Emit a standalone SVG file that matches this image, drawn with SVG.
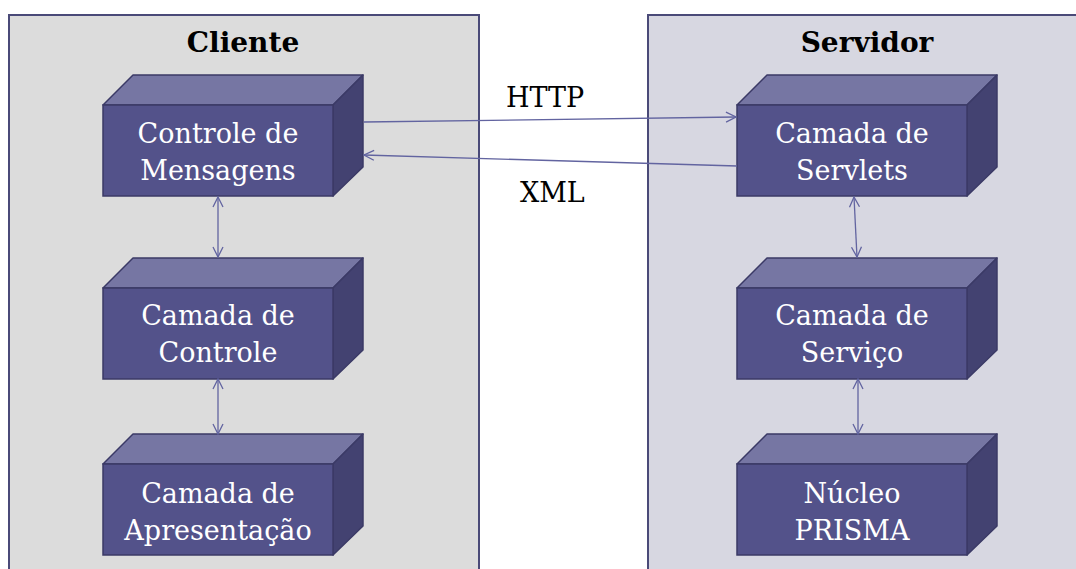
<svg xmlns="http://www.w3.org/2000/svg" width="1076" height="569" viewBox="0 0 1076 569">
  <style>
    .frame { stroke: #4a4a78; stroke-width: 2; }
    .front { fill: #53528a; stroke: #3b3a66; stroke-width: 1.5; }
    .top { fill: #7676a3; stroke: #3b3a66; stroke-width: 1.5; stroke-linejoin: round; }
    .side { fill: #434271; stroke: #3b3a66; stroke-width: 1.5; stroke-linejoin: round; }
    .label { font-family: "DejaVu Serif", "Liberation Serif", serif; font-size: 27px; fill: #ffffff; text-anchor: middle; }
    .title { font-family: "DejaVu Serif", "Liberation Serif", serif; font-size: 28px; font-weight: bold; fill: #000000; text-anchor: middle; }
    .proto { font-family: "DejaVu Serif", "Liberation Serif", serif; font-size: 27px; fill: #000000; }
    .link { stroke: #6264a0; stroke-width: 1.3; fill: none; }
  </style>
  <defs>
    <marker id="arrow" viewBox="0 0 12 12" refX="11" refY="6" markerWidth="12" markerHeight="12" markerUnits="userSpaceOnUse" orient="auto-start-reverse">
      <path d="M1,1 L11,6 L1,11" fill="none" stroke="#6264a0" stroke-width="1.3"/>
    </marker>
    <!-- 3D block: front face 230x91, depth offset 30 -->
    <g id="block">
      <polygon class="top" points="0,30 30,0 260,0 230,30"/>
      <polygon class="side" points="230,30 260,0 260,92 230,121"/>
      <rect class="front" x="0" y="30" width="230" height="91"/>
    </g>
  </defs>

  <rect width="1076" height="569" fill="#ffffff"/>

  <!-- Client container -->
  <g id="cliente">
    <rect class="frame" x="9" y="15" width="470" height="570" fill="#dcdcdc"/>
    <text class="title" x="243" y="52">Cliente</text>
  </g>

  <!-- Server container -->
  <g id="servidor">
    <rect class="frame" x="648" y="15" width="440" height="570" fill="#d7d7e1"/>
    <text class="title" x="867" y="52">Servidor</text>
  </g>

  <!-- Client nodes -->
  <g id="controle-mensagens">
    <use href="#block" x="103" y="75"/>
    <text class="label" x="218" y="143">Controle de</text>
    <text class="label" x="218" y="180">Mensagens</text>
  </g>
  <g id="camada-controle">
    <use href="#block" x="103" y="258"/>
    <text class="label" x="218" y="325">Camada de</text>
    <text class="label" x="218" y="362">Controle</text>
  </g>
  <g id="camada-apresentacao">
    <use href="#block" x="103" y="434"/>
    <text class="label" x="218" y="503">Camada de</text>
    <text class="label" x="218" y="540">Apresentação</text>
  </g>

  <!-- Server nodes -->
  <g id="camada-servlets">
    <use href="#block" x="737" y="75"/>
    <text class="label" x="852" y="143">Camada de</text>
    <text class="label" x="852" y="180">Servlets</text>
  </g>
  <g id="camada-servico">
    <use href="#block" x="737" y="258"/>
    <text class="label" x="852" y="325">Camada de</text>
    <text class="label" x="852" y="362">Serviço</text>
  </g>
  <g id="nucleo-prisma">
    <use href="#block" x="737" y="434"/>
    <text class="label" x="852" y="503">Núcleo</text>
    <text class="label" x="852" y="540">PRISMA</text>
  </g>

  <!-- Connectors -->
  <g id="connectors">
    <line class="link" x1="364" y1="122" x2="736" y2="117" marker-end="url(#arrow)"/>
    <line class="link" x1="737" y1="166" x2="364" y2="155" marker-end="url(#arrow)"/>
    <line class="link" x1="218" y1="197" x2="218" y2="257" marker-start="url(#arrow)" marker-end="url(#arrow)"/>
    <line class="link" x1="218" y1="379" x2="218" y2="434" marker-start="url(#arrow)" marker-end="url(#arrow)"/>
    <line class="link" x1="854" y1="197" x2="857" y2="257" marker-start="url(#arrow)" marker-end="url(#arrow)"/>
    <line class="link" x1="858" y1="379" x2="858" y2="434" marker-start="url(#arrow)" marker-end="url(#arrow)"/>
    <text class="proto" x="506" y="107">HTTP</text>
    <text class="proto" x="520" y="202">XML</text>
  </g>
</svg>
